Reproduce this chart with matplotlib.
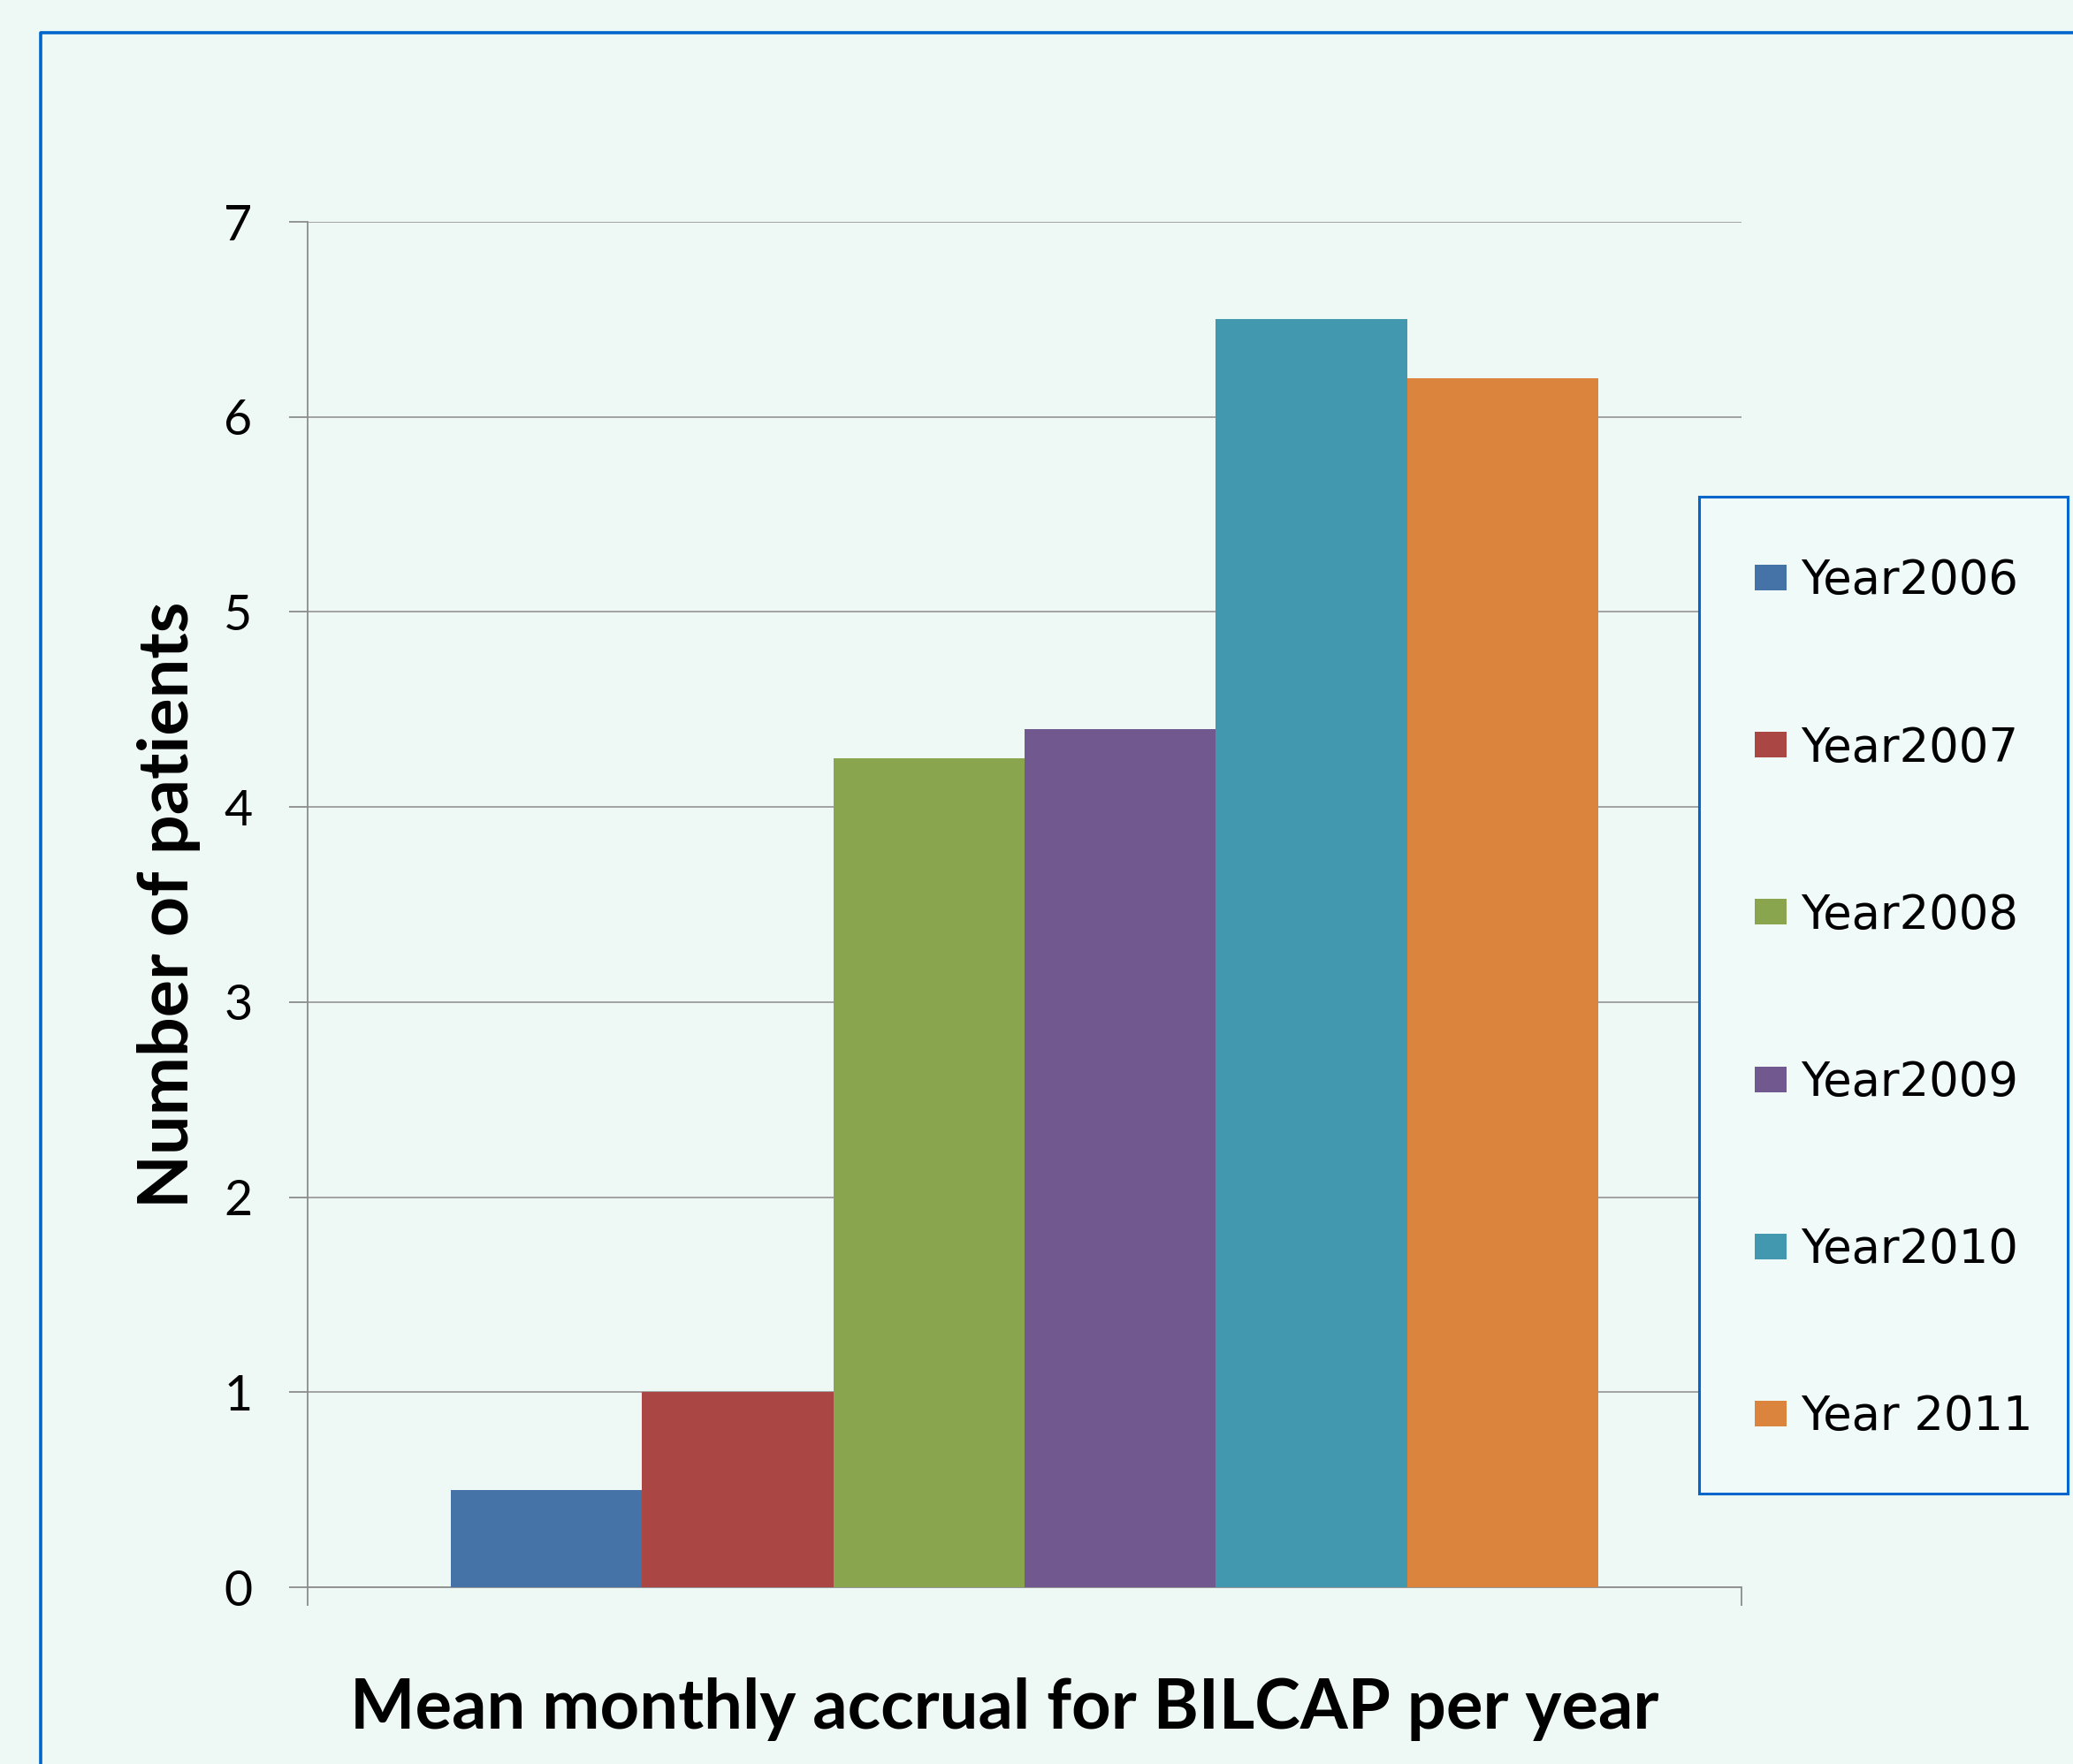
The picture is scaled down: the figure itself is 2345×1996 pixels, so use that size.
import matplotlib
matplotlib.use('Agg')
import matplotlib.pyplot as plt
from matplotlib.patches import Rectangle
from matplotlib.lines import Line2D

# data
series = ['Year2006', 'Year2007', 'Year2008', 'Year2009', 'Year2010', 'Year 2011']
values = [0.5, 1.0, 4.25, 4.4, 6.5, 6.2]
colors = ['#4572A7', '#AA4643', '#89A54E', '#71588F', '#4198AF', '#DB843D']
yticks = [0, 1, 2, 3, 4, 5, 6, 7]

bg = '#EEF9F6'
frame_blue = '#0066CC'
grid_gray = '#8C8C8C'

fig = plt.figure(figsize=(23.45, 19.96), dpi=100, facecolor=bg)
ax = fig.add_axes([0.1484, 0.1002, 0.6917, 0.7740])
ax.set_facecolor(bg)

# excel style: one category, gap width 150%
n = len(series)
group = n / (n + 1.5)
w = group / n
start = (1 - group) / 2
bars = []
for i, (s, v, c) in enumerate(zip(series, values, colors)):
    b = ax.bar(start + (i + 0.5) * w, v, width=w, color=c, label=s, zorder=3)
    bars.append(b)

ax.set_xlim(0, 1)
ax.set_ylim(0, 7)
ax.set_yticks(yticks)
ax.set_xticks([0, 1])
ax.set_xticklabels([])
ax.yaxis.grid(True, color=grid_gray, lw=1.1, zorder=0)
ax.set_axisbelow(True)
for sp in ['top', 'right']:
    ax.spines[sp].set_visible(False)
for sp in ['left', 'bottom']:
    ax.spines[sp].set_color(grid_gray)
    ax.spines[sp].set_linewidth(1.3)
ax.tick_params(axis='both', direction='out', length=15, width=1.3, color=grid_gray)
ax.tick_params(axis='y', pad=30, labelsize=40)
for t in ax.get_yticklabels():
    t.set_fontfamily('Lato')

fig.text(0.0815, 0.487, 'Number of patients', rotation=90, ha='center', va='center',
         fontsize=57, fontweight='bold', family='Lato')
fig.text(0.4845, 0.031, 'Mean monthly accrual for BILCAP per year', ha='center', va='center',
         fontsize=56, fontweight='bold', family='Lato')

# outer blue frame (only top and left visible)
fig.add_artist(Line2D([0.0196, 0.0196, 1.01], [-0.01, 0.9815, 0.9815],
                      transform=fig.transFigure, color=frame_blue, lw=2.6))

# legend box
fig.add_artist(Rectangle((0.8196, 0.1533), 0.1778, 0.5651, transform=fig.transFigure,
                         facecolor='#F0FAF8', edgecolor=frame_blue, lw=2.2, zorder=1))
leg = fig.legend(handles=bars, labels=series, loc='center left',
                 bbox_to_anchor=(0.8465, 0.4337), frameon=False, borderpad=0,
                 borderaxespad=0, fontsize=38, handlelength=0.68, handleheight=0.47,
                 handletextpad=0.3, labelspacing=2.6)
leg.set_zorder(5)

fig.savefig('out.png', dpi=100, facecolor=bg)
